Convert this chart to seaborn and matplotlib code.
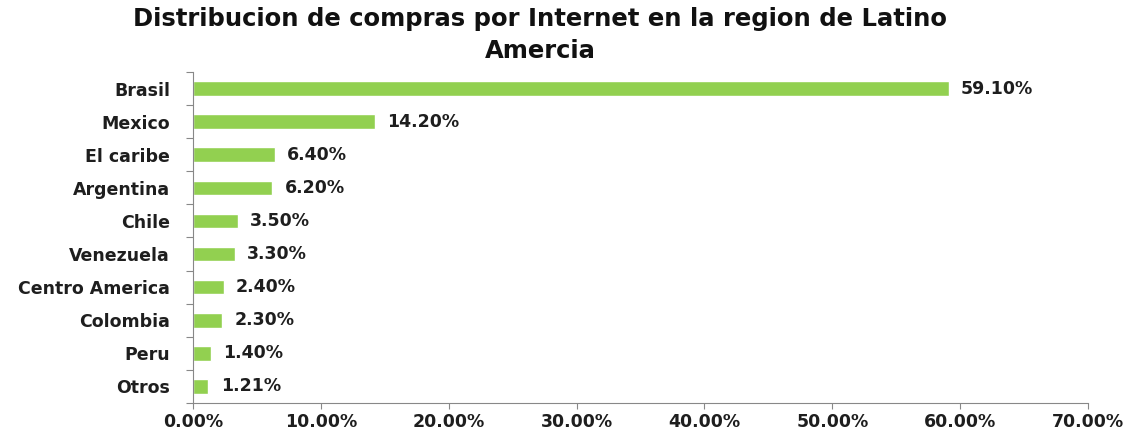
import matplotlib
matplotlib.use("Agg")
import matplotlib.pyplot as plt
import matplotlib.ticker as mticker
import seaborn as sns
import pandas as pd

regiones = ["Brasil", "Mexico", "El caribe", "Argentina", "Chile", "Venezuela",
            "Centro America", "Colombia", "Peru", "Otros"]
porcentajes = [59.10, 14.20, 6.40, 6.20, 3.50, 3.30, 2.40, 2.30, 1.40, 1.21]
etiquetas = ["59.10%", "14.20%", "6.40%", "6.20%", "3.50%", "3.30%",
             "2.40%", "2.30%", "1.40%", "1.21%"]
ticks_x = [0, 10, 20, 30, 40, 50, 60, 70]

df = pd.DataFrame({"region": regiones, "pct": porcentajes})

sns.set_theme(style="white")
plt.rcParams["font.family"] = ["DejaVu Sans"]

fig = plt.figure(figsize=(11.26, 4.36), dpi=100)
ax = fig.add_axes([193 / 1126, 33 / 436, (1088 - 193) / 1126, (403 - 72) / 436])

sns.barplot(data=df, x="pct", y="region", order=regiones, color="#92D050",
            saturation=1, width=0.44, ax=ax)

for i, (v, t) in enumerate(zip(porcentajes, etiquetas)):
    ax.text(v + 0.95, i, t, va="center", ha="left", fontsize=12.5,
            fontweight="bold", color="#1e1e1e")

ax.set_xlim(0, 70)
ax.set_ylim(len(regiones) - 0.5, -0.5)
ax.set_xticks(ticks_x)
ax.xaxis.set_major_formatter(mticker.FuncFormatter(lambda v, p: f"{v:.2f}%"))
ax.set_yticks([i - 0.5 for i in range(len(regiones) + 1)], minor=False)
ax.set_yticklabels([])
ax.set_yticks(range(len(regiones)), minor=True)
ax.set_yticklabels(regiones, minor=True)
ax.tick_params(axis="y", which="major", length=5, width=0.8, color="#888888", direction="out", left=True)
ax.tick_params(axis="y", which="minor", length=0, pad=16.5, labelsize=12.5)
ax.tick_params(axis="x", length=4, width=0.8, color="#888888", direction="out", bottom=True,
               labelsize=12.5, pad=3)
for lab in ax.get_yticklabels(minor=True) + ax.get_xticklabels():
    lab.set_fontweight("bold")
    lab.set_color("#1e1e1e")

ax.set_xlabel("")
ax.set_ylabel("")
for s in ["top", "right"]:
    ax.spines[s].set_visible(False)
for s in ["left", "bottom"]:
    ax.spines[s].set_visible(True)
    ax.spines[s].set_color("#888888")
    ax.spines[s].set_linewidth(0.8)

fig.text(540 / 1126, 1 - 35 / 436,
         "Distribucion de compras por Internet en la region de Latino\nAmercia",
         ha="center", va="center", fontsize=17.5, fontweight="bold", color="#111111",
         linespacing=1.4)

fig.savefig("out.png", dpi=100, facecolor="white")
